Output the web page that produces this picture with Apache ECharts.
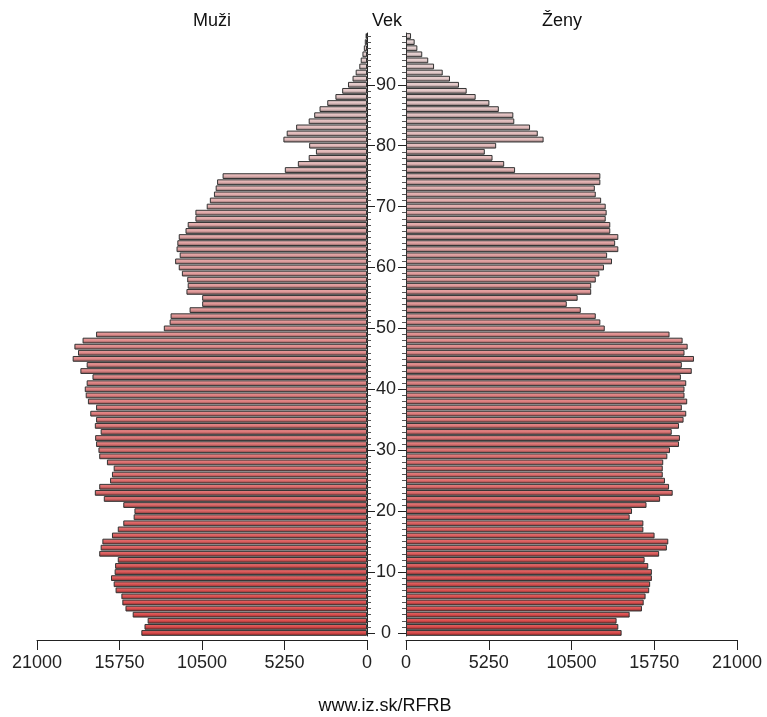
<!DOCTYPE html>
<html><head><meta charset="utf-8">
<script src="https://cdn.jsdelivr.net/npm/echarts@6/dist/echarts.min.js"></script>
<style>html,body{margin:0;padding:0;background:#fff}#c{width:767px;height:717px}</style>
</head><body><div id="c"></div>
<script>
// ---- data ----
const ages = ['0','1','2','3','4','5','6','7','8','9','10','11','12','13','14','15','16','17','18','19',
  '20','21','22','23','24','25','26','27','28','29','30','31','32','33','34','35','36','37','38','39',
  '40','41','42','43','44','45','46','47','48','49','50','51','52','53','54','55','56','57','58','59',
  '60','61','62','63','64','65','66','67','68','69','70','71','72','73','74','75','76','77','78','79',
  '80','81','82','83','84','85','86','87','88','89','90','91','92','93','94','95','96','97','98'];
const male = [14360,14160,13960,14910,15370,15570,15630,16000,16120,16290,
  16060,16030,15860,17040,16950,16840,16230,15860,15510,14850,
  14800,15510,16750,17320,17040,16350,16230,16120,16550,17040,
  17090,17240,17300,16950,17320,17240,17610,17240,17760,17900,
  17960,17840,17470,18240,17840,18730,18390,18620,18100,17240,
  12930,12560,12500,11290,10490,10490,11490,11410,11440,11780,
  11980,12210,11920,12120,12070,11980,11550,11410,10920,10920,
  10200,10000,9740,9630,9540,9190,5230,4400,3710,3250,
  3680,5320,5110,4510,3710,3360,3020,2530,2010,1580,
  1210,920,720,490,400,290,200,140,90];
const female = [13680,13470,13360,14190,14970,15080,15200,15430,15490,15600,
  15600,15370,15140,16060,16550,16640,15770,15060,15060,14190,
  14340,15260,16120,16920,16690,16430,16290,16290,16320,16580,
  16750,17320,17380,16860,17320,17610,17780,17500,17840,17670,
  17670,17780,17440,18130,17500,18270,17670,17870,17550,16720,
  12610,12330,12040,11090,10200,10890,11750,11750,12040,12270,
  12560,13070,12760,13470,13270,13470,12960,12960,12670,12730,
  12670,12380,12040,11980,12330,12330,6920,6230,5490,5000,
  5720,8730,8360,7870,6870,6810,5890,5290,4420,3850,
  3360,2790,2330,1780,1410,1030,720,550,320];
const ageTickLabels = ['0','10','20','30','40','50','60','70','80','90'];
const xTicks = [0, 5250, 10500, 15750, 21000];
const panelTitles = ['Muži', 'Vek', 'Ženy'];
const footerText = 'www.iz.sk/RFRB';

// ---- style ----
const FONT = '"Liberation Sans", Arial, sans-serif';
const FS = 18;
const AX = '#222';
const C0 = [218, 72, 72], C1 = [228, 210, 210];
function mix(a, b, t) { return a.map((v, k) => Math.round(v + (b[k] - v) * t)); }
function rgb(c) { return 'rgb(' + c.join(',') + ')'; }
function barStyle(i) {
  const base = mix(C0, C1, i / (ages.length - 1));
  const light = mix(base, [255, 255, 255], 0.2);
  const dark = base.map(v => Math.round(v * 0.55));
  return {
    color: { type: 'linear', x: 0, y: 0, x2: 0, y2: 1,
      colorStops: [{ offset: 0, color: rgb(light) }, { offset: 0.5, color: rgb(base) }, { offset: 1, color: rgb(dark) }] },
    borderColor: '#333', borderWidth: 1
  };
}
const isMajor = v => ageTickLabels.includes(String(v));

const gridTop = 33, gridBottom = 81;
const xMax = xTicks[xTicks.length - 1], xInt = xTicks[1] - xTicks[0];

function xAxis(grid, inverse) {
  return {
    type: 'value', gridIndex: grid, inverse: inverse, min: xTicks[0], max: xMax, interval: xInt,
    position: 'bottom', offset: 4,
    axisLine: { show: true, lineStyle: { color: AX, width: 1 } },
    axisTick: { show: true, length: 10, lineStyle: { color: AX, width: 1 } },
    axisLabel: { show: true, color: '#222', fontFamily: FONT, fontSize: FS, margin: 14,
      showMinLabel: true, showMaxLabel: true, formatter: v => String(v) },
    splitLine: { show: false }
  };
}
function yAxisMinor(grid, pos, withLabels) {
  return {
    type: 'category', gridIndex: grid, data: ages, position: pos,
    axisLine: { show: true, onZero: false, lineStyle: { color: AX, width: 1 } },
    axisTick: { show: true, length: 4, alignWithLabel: true, interval: 0, lineStyle: { color: '#555', width: 1 } },
    axisLabel: withLabels ? { show: true, interval: 0, color: '#222', fontFamily: FONT, fontSize: FS,
      align: 'center', margin: 19, formatter: v => isMajor(v) ? v : '' } : { show: false },
    splitLine: { show: false }
  };
}
function yAxisMajor(grid, pos) {
  return {
    type: 'category', gridIndex: grid, data: ages, position: pos,
    axisLine: { show: false },
    axisTick: { show: true, length: 8, alignWithLabel: true, interval: (idx, v) => isMajor(v),
      lineStyle: { color: AX, width: 1 } },
    axisLabel: { show: false }, splitLine: { show: false }
  };
}

const chart = echarts.init(document.getElementById('c'), null, { renderer: 'canvas' });
chart.setOption({
  backgroundColor: '#fff',
  animation: false,
  textStyle: { fontFamily: FONT },
  grid: [
    { left: 37, right: 767 - 367, top: gridTop, bottom: gridBottom },
    { left: 406, right: 767 - 737, top: gridTop, bottom: gridBottom }
  ],
  xAxis: [xAxis(0, true), xAxis(1, false)],
  yAxis: [yAxisMinor(0, 'right', true), yAxisMajor(0, 'right'), yAxisMinor(1, 'left', false), yAxisMajor(1, 'left')],
  series: [
    { name: panelTitles[0], type: 'bar', xAxisIndex: 0, yAxisIndex: 0, barCategoryGap: '5%',
      data: male.map((v, i) => ({ value: v, itemStyle: barStyle(i) })) },
    { name: panelTitles[2], type: 'bar', xAxisIndex: 1, yAxisIndex: 2, barCategoryGap: '5%',
      data: female.map((v, i) => ({ value: v, itemStyle: barStyle(i) })) }
  ],
  graphic: [
    { type: 'text', x: 212, y: 21, style: { text: panelTitles[0], align: 'center', verticalAlign: 'middle', font: FS + 'px ' + FONT, fill: '#111' } },
    { type: 'text', x: 387, y: 21, style: { text: panelTitles[1], align: 'center', verticalAlign: 'middle', font: FS + 'px ' + FONT, fill: '#111' } },
    { type: 'text', x: 562, y: 21, style: { text: panelTitles[2], align: 'center', verticalAlign: 'middle', font: FS + 'px ' + FONT, fill: '#111' } },
    { type: 'text', x: 385, y: 706, style: { text: footerText, align: 'center', verticalAlign: 'middle', font: FS + 'px ' + FONT, fill: '#111' } }
  ]
});
</script></body></html>
